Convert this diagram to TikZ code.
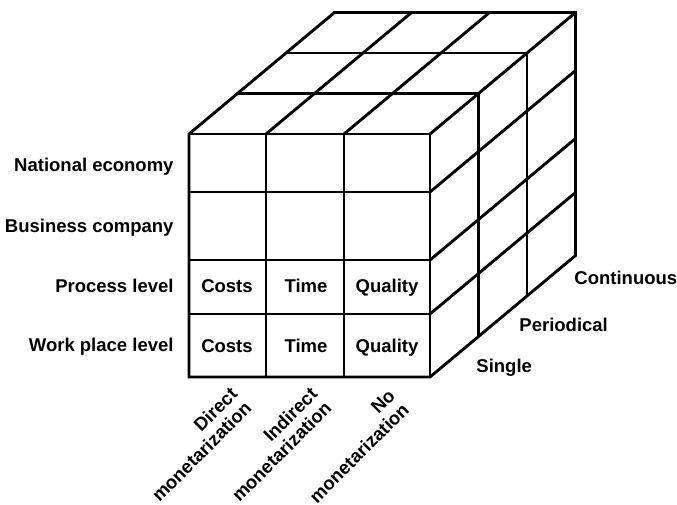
\documentclass[tikz,border=0pt]{standalone}
\usepackage{fontspec}
\setmainfont{Liberation Sans}

\begin{document}
\begin{tikzpicture}[x=1pt,y=-1pt,line width=2.9pt,
        lbl/.style={font=\bfseries\fontsize{18.5}{20}\selectfont,inner sep=0pt}]
            \useasboundingbox (0,0) rectangle (677,504);
            % depth step of the cube
            \def\ddx{48.5}
            \def\ddy{-40.5}

            % Outline
            \draw[line join=miter] (189,134) -- (189,377) -- (430,377) -- (430+3*\ddx,377+3*\ddy)
                -- (430+3*\ddx,134+3*\ddy) -- (189+3*\ddx,134+3*\ddy) -- cycle;

            % Front face
            \foreach \x in {266,344,430}
                \draw (\x,134) -- (\x,377);
            \foreach \y in {134,192,260,314}
                \draw (189,\y) -- (430,\y);

            % Top face
            \foreach \x in {266,344,430}
                \draw (\x,134) -- ++(3*\ddx,3*\ddy);
            \foreach \k in {1,2}
                \draw (189+\k*\ddx,134+\k*\ddy) -- (430+\k*\ddx,134+\k*\ddy);

            % Right face
            \foreach \y in {192,260,314}
                \draw (430,\y) -- ++(3*\ddx,3*\ddy);
            \foreach \k in {1,2}
                \draw (430+\k*\ddx,134+\k*\ddy) -- (430+\k*\ddx,377+\k*\ddy);

            % Levels
            \node[lbl,anchor=base east] (national)  at (175,171) {National economy};
            \node[lbl,anchor=base east] (business)  at (175,232) {Business company};
            \node[lbl,anchor=base east] (process)   at (175,292) {Process level};
            \node[lbl,anchor=base east] (workplace) at (175,351) {Work place level};

            % Cells
            \node[lbl,anchor=base] (costsP)   at (227,292) {Costs};
            \node[lbl,anchor=base] (timeP)    at (306,292) {Time};
            \node[lbl,anchor=base] (qualityP) at (387,292) {Quality};
            \node[lbl,anchor=base] (costsW)   at (227,352) {Costs};
            \node[lbl,anchor=base] (timeW)    at (306,352) {Time};
            \node[lbl,anchor=base] (qualityW) at (387,352) {Quality};

            % Monetarization
            \node[lbl,rotate=45,anchor=north east,align=right] (direct)   at (229,384) {Direct\\monetarization};
            \node[lbl,rotate=45,anchor=north east,align=right] (indirect) at (309,384) {Indirect\\monetarization};
            \node[lbl,rotate=45,anchor=north east,align=right] (nomon)    at (387,386) {No\\monetarization};

            % Frequency
            \node[lbl,anchor=base west] (single)     at (475,372) {Single};
            \node[lbl,anchor=base west] (periodical) at (518,331) {Periodical};
            \node[lbl,anchor=base west] (continuous) at (573,284) {Continuous};
        \end{tikzpicture}
\end{document}
